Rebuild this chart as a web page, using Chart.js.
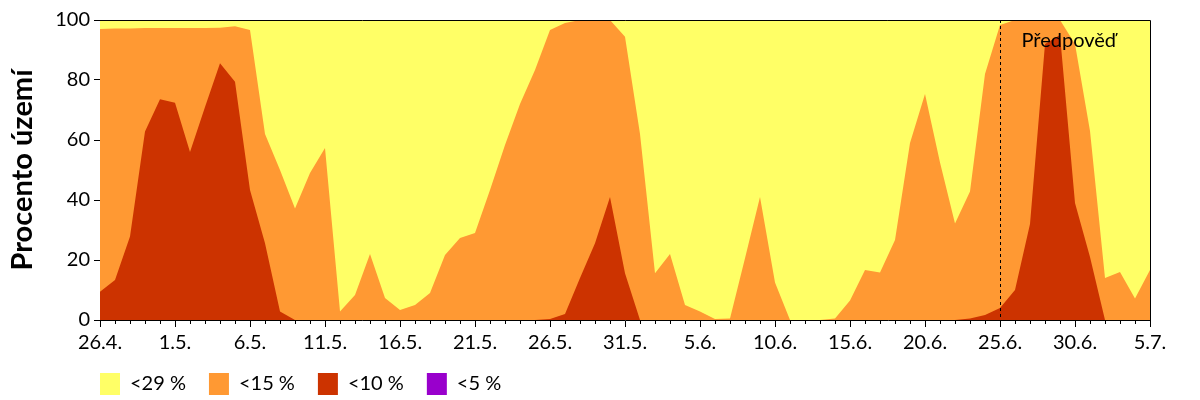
<!DOCTYPE html>
<html>
<head>
<meta charset="utf-8">
<script src="https://cdn.jsdelivr.net/npm/chart.js@4"></script>
<style>
  body { margin: 0; background: #fff; }
</style>
</head>
<body>
<canvas id="myChart" width="1200" height="400"></canvas>
<script>
// data
var days = ['26.4.', '27.4.', '28.4.', '29.4.', '30.4.',
    '1.5.', '2.5.', '3.5.', '4.5.', '5.5.', '6.5.', '7.5.', '8.5.', '9.5.', '10.5.',
    '11.5.', '12.5.', '13.5.', '14.5.', '15.5.', '16.5.', '17.5.', '18.5.', '19.5.', '20.5.',
    '21.5.', '22.5.', '23.5.', '24.5.', '25.5.', '26.5.', '27.5.', '28.5.', '29.5.', '30.5.', '31.5.',
    '1.6.', '2.6.', '3.6.', '4.6.', '5.6.', '6.6.', '7.6.', '8.6.', '9.6.', '10.6.',
    '11.6.', '12.6.', '13.6.', '14.6.', '15.6.', '16.6.', '17.6.', '18.6.', '19.6.', '20.6.',
    '21.6.', '22.6.', '23.6.', '24.6.', '25.6.', '26.6.', '27.6.', '28.6.', '29.6.', '30.6.',
    '1.7.', '2.7.', '3.7.', '4.7.', '5.7.'];

var below29 = [100, 100, 100, 100, 100, 100, 100, 100, 100, 100,
    100, 100, 100, 100, 100, 100, 100, 100, 100, 100,
    100, 100, 100, 100, 100, 100, 100, 100, 100, 100,
    100, 100, 100, 100, 100, 100, 100, 100, 100, 100,
    100, 100, 100, 100, 100, 100, 100, 100, 100, 100,
    100, 100, 100, 100, 100, 100, 100, 100, 100, 100,
    100, 100, 100, 100, 100, 100, 100, 100, 100, 100, 100];

var below15 = [97, 97.2, 97.2, 97.3, 97.3, 97.3, 97.3, 97.3, 97.4, 97.9,
    96.7, 62, 50, 37.2, 49, 57.3, 2.8, 8.3, 22, 7.3,
    3.3, 5, 9, 21.7, 27.3, 29, 43.3, 58.3, 72, 83.3,
    96.7, 99, 100, 100, 100, 94.4, 62, 15.6, 22, 5,
    2.8, 0.3, 0.5, 20.6, 41, 12.5, 0, 0, 0, 0.5,
    6.5, 16.7, 15.8, 26.7, 59, 75.3, 52.5, 32.2, 42.8, 82,
    98.3, 100, 100, 100, 100, 92, 63, 14, 16, 7.2, 16.7];

var below10 = [9.4, 13.3, 27.8, 62.8, 73.6, 72.4, 56, 71, 85.6, 79.4,
    43.3, 25.6, 2.8, 0, 0, 0, 0, 0, 0, 0,
    0, 0, 0, 0, 0, 0, 0, 0, 0, 0,
    0.3, 2, 14, 25.6, 41, 15.6, 0, 0, 0, 0,
    0, 0, 0, 0, 0, 0, 0, 0, 0, 0,
    0, 0, 0, 0, 0, 0, 0, 0, 0.5, 1.7,
    4, 10, 32, 92, 95, 39, 21, 0, 0, 0, 0];

var below5 = [0, 0, 0, 0, 0, 0, 0, 0, 0, 0,
    0, 0, 0, 0, 0, 0, 0, 0, 0, 0,
    0, 0, 0, 0, 0, 0, 0, 0, 0, 0,
    0, 0, 0, 0, 0, 0, 0, 0, 0, 0,
    0, 0, 0, 0, 0, 0, 0, 0, 0, 0,
    0, 0, 0, 0, 0, 0, 0, 0, 0, 0,
    0, 0, 0, 0, 0, 0, 0, 0, 0, 0, 0];

var forecastFrom = 60;   // 25.6.
var forecastText = 'Předpověď';

var FONT = 'Lato';
var LEGEND_H = 36;

function area(label, data, color, order) {
    return {
        label: label,
        data: data,
        backgroundColor: color,
        borderColor: color,
        borderWidth: 0,
        pointRadius: 0,
        tension: 0,
        fill: 'origin',
        order: order
    };
}

// frame, minor ticks, forecast line
var extras = {
    id: 'extras',
    beforeDraw: function(chart) {
        var lg = chart.legend;
        var pad = lg.options.labels.padding;
        lg.left = chart.chartArea.left - pad;
        lg.top = chart.chartArea.bottom + 53 - pad;
    },
    afterDatasetsDraw: function(chart) {
        var ctx = chart.ctx;
        var a = chart.chartArea;
        var x = chart.scales.x;
        ctx.save();
        ctx.strokeStyle = '#000';
        ctx.lineWidth = 1;

        // forecast line
        var fx = Math.round(x.getPixelForValue(forecastFrom)) + 0.5;
        ctx.setLineDash([3, 3]);
        ctx.beginPath();
        ctx.moveTo(fx, a.top);
        ctx.lineTo(fx, a.bottom);
        ctx.stroke();
        ctx.setLineDash([]);

        ctx.fillStyle = '#000';
        ctx.font = '20px ' + FONT;
        ctx.textBaseline = 'alphabetic';
        ctx.fillText(forecastText, fx + 21, a.top + 27);

        // top and right edge
        ctx.beginPath();
        ctx.moveTo(a.left, a.top + 0.5);
        ctx.lineTo(a.right + 0.5, a.top + 0.5);
        ctx.lineTo(a.right + 0.5, a.bottom);
        ctx.stroke();

        // short day ticks
        ctx.beginPath();
        for (var i = 0; i < days.length; i++) {
            if (i % 5 === 0) continue;
            var px = Math.round(x.getPixelForTick(i)) + 0.5;
            ctx.moveTo(px, a.bottom);
            ctx.lineTo(px, a.bottom + 4);
        }
        ctx.stroke();
        ctx.restore();
    }
};

var ctx = document.getElementById('myChart').getContext('2d');
var chart = new Chart(ctx, {
    type: 'line',
    data: {
        labels: days,
        datasets: [
            area('<29 %', below29, '#FFFF66', 4),
            area('<15 %', below15, '#FF9933', 3),
            area('<10 %', below10, '#CC3300', 2),
            area('<5 %', below5, '#9900CC', 1)
        ]
    },
    options: {
        responsive: false,
        animation: false,
        devicePixelRatio: 1,
        layout: { padding: { top: 20, right: 50, left: 0, bottom: 0 } },
        plugins: {
            tooltip: { enabled: false },
            legend: {
                position: 'bottom',
                align: 'start',
                maxHeight: LEGEND_H,
                labels: {
                    boxWidth: 20,
                    boxHeight: 22,
                    padding: 23,
                    color: '#000',
                    font: { family: FONT, size: 20 },
                    sort: function(a, b) { return a.datasetIndex - b.datasetIndex; }
                }
            }
        },
        scales: {
            x: {
                afterFit: function(s) { s.height = 80 - LEGEND_H; },
                border: { color: '#000', width: 1 },
                grid: {
                    drawOnChartArea: false,
                    tickLength: 7,
                    tickColor: function(c) { return c.index % 5 === 0 ? '#000' : 'rgba(0,0,0,0)'; }
                },
                ticks: {
                    autoSkip: false,
                    maxRotation: 0,
                    padding: 4,
                    color: '#000',
                    font: { family: FONT, size: 20 },
                    callback: function(v, i) { return i % 5 === 0 ? days[i] : ''; }
                }
            },
            y: {
                min: 0,
                max: 100,
                afterFit: function(s) { s.width = 100; },
                border: { color: '#000', width: 1 },
                grid: { drawOnChartArea: false, tickLength: 6, color: '#000' },
                ticks: {
                    stepSize: 20,
                    padding: 4,
                    color: '#000',
                    font: { family: FONT, size: 20 }
                },
                title: {
                    display: true,
                    text: 'Procento území',
                    color: '#000',
                    font: { family: FONT, size: 29, weight: 'bold' },
                    padding: { top: 5, bottom: 4 }
                }
            }
        }
    },
    plugins: [extras]
});
</script>
</body>
</html>
